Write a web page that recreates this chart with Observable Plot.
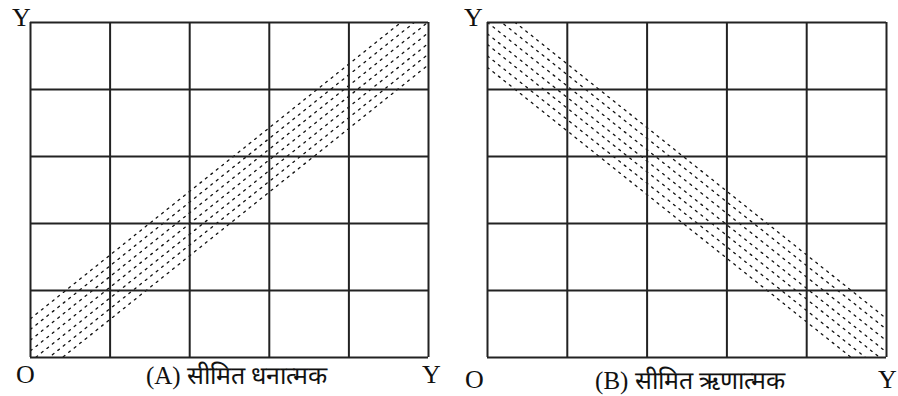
<!DOCTYPE html>
<html>
<head>
<meta charset="utf-8">
<script src="https://cdn.jsdelivr.net/npm/d3@7"></script>
<script src="https://cdn.jsdelivr.net/npm/@observablehq/plot@0.6"></script>
<style>
  html, body { margin: 0; padding: 0; background: #fff; }
  #wrap { position: relative; width: 898px; height: 396px; }
  #left, #right { position: absolute; top: 0; }
  #left { left: 0; }
  #right { left: 449px; }
  svg { font-family: "Liberation Serif", "Times New Roman", serif; }
</style>
</head>
<body>
<div id="wrap"><div id="left"></div><div id="right"></div></div>
<script>
// grid cell boundaries (both axes, 5 x 5 cells)
const gridTicks = [0, 1, 2, 3, 4, 5];

// (A) limited positive: dotted lines y = a + slope * x
const posSlope = 0.95;
const posIntercepts = [0.58, 0.42, 0.26, 0.10, -0.06, -0.22, -0.38];

// (B) limited negative
const negSlope = -0.95;
const negIntercepts = [5.33, 5.17, 5.0, 4.83, 4.67, 4.5, 4.33];

// text labels
const captionA = "(A) सीमित धनात्मक";
const captionB = "(B) सीमित ऋणात्मक";
const axisY = "Y";
const origin = "O";

const xEnds = [gridTicks[0], gridTicks[gridTicks.length - 1]];

function bandLines(intercepts, slope) {
  const rows = [];
  intercepts.forEach((a, i) => {
    xEnds.forEach(x => rows.push({line: i, x, y: a + slope * x}));
  });
  return rows;
}

function panel(intercepts, slope, caption, opts) {
  const lbl = {fontSize: 26, lineAnchor: "bottom", textAnchor: "middle", fill: "#111", text: d => d};
  return Plot.plot({
    width: 449,
    height: 396,
    marginLeft: opts.ml,
    marginRight: opts.mr,
    marginTop: 22,
    marginBottom: 39,
    x: {domain: [0, 5], axis: null},
    y: {domain: [0, 5], axis: null},
    style: {fontFamily: "'Liberation Serif', 'Times New Roman', serif", background: "#fff"},
    marks: [
      Plot.line(bandLines(intercepts, slope), {
        x: "x", y: "y", z: "line",
        stroke: "#111", strokeWidth: 1.3, strokeDasharray: "2,5",
        clip: true
      }),
      Plot.ruleX(gridTicks, {stroke: "#222", strokeWidth: 2}),
      Plot.ruleY(gridTicks, {stroke: "#222", strokeWidth: 2}),
      Plot.text([axisY], {...lbl, frameAnchor: "top-left", dx: opts.ytDx, dy: 3}),
      Plot.text([origin], {...lbl, frameAnchor: "bottom-left", dx: opts.oDx, dy: opts.bDy}),
      Plot.text([axisY], {...lbl, frameAnchor: "bottom-right", dx: opts.yrDx, dy: opts.bDy}),
      Plot.text([caption], {...lbl, fontSize: 25, frameAnchor: "bottom", dx: opts.cDx, dy: opts.bDy + 1})
    ]
  });
}

document.getElementById("left").appendChild(
  panel(posIntercepts, posSlope, captionA, {ml: 30, mr: 21, ytDx: -9, oDx: -5, yrDx: 3, cDx: 7, bDy: 25})
);
document.getElementById("right").appendChild(
  panel(negIntercepts, negSlope, captionB, {ml: 38, mr: 12, ytDx: -14, oDx: -13, yrDx: 1, cDx: 3, bDy: 30})
);
</script>
</body>
</html>
